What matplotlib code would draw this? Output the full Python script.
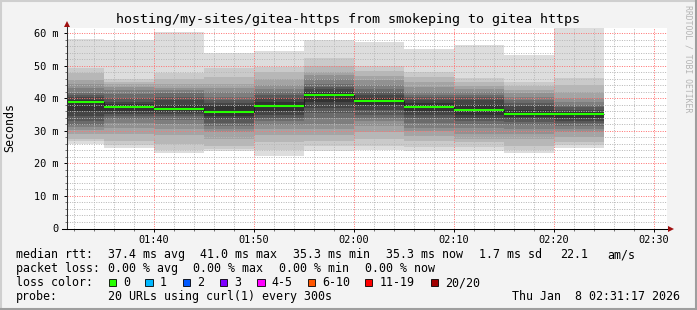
import numpy as np
import matplotlib
matplotlib.use("Agg")
import matplotlib.pyplot as plt
from matplotlib.patches import Rectangle
from matplotlib.lines import Line2D
from matplotlib.ticker import FixedLocator, FuncFormatter

MONO = "DejaVu Sans Mono"
W, H = 697, 310

# time axis in minutes after 01:30, one smoke column every 5 min
col_edges = [0, 5, 10, 15, 20, 25, 30, 35, 40, 45, 50, 55]
t_start, t_end = 1 + 17 / 60, 61 + 17 / 60   # 01:31:17 .. 02:31:17

# 20 sorted rtt samples (ms) per 5-minute column
p_0130 = [26.1, 27.0, 27.6, 29.0, 30.2, 31.2, 31.8, 33.0, 34.5, 36.0,
          39.5, 40.3, 41.0, 41.6, 43.1, 44.5, 45.6, 47.7, 49.2, 58.2]
p_0135 = [24.6, 25.8, 27.0, 29.0, 31.0, 32.5, 33.5, 34.5, 35.3, 36.0,
          38.2, 39.0, 40.0, 41.2, 42.5, 43.5, 44.3, 45.0, 45.8, 57.9]
p_0140 = [23.1, 24.1, 26.0, 28.7, 30.5, 32.0, 33.3, 34.5, 35.3, 35.8,
          38.0, 39.5, 40.5, 41.5, 42.5, 43.2, 44.5, 46.0, 47.7, 60.3]
p_0145 = [23.9, 24.3, 25.5, 27.5, 29.5, 30.5, 31.5, 32.5, 33.5, 34.5,
          37.5, 38.6, 39.5, 40.5, 42.0, 43.1, 44.5, 46.5, 49.2, 53.8]
p_0150 = [22.3, 24.0, 26.5, 28.7, 30.5, 31.8, 33.0, 34.0, 35.0, 36.0,
          39.0, 40.0, 41.0, 42.0, 43.0, 44.0, 46.0, 48.0, 49.7, 54.6]
p_0155 = [23.8, 25.5, 27.0, 28.7, 30.5, 32.0, 33.8, 35.5, 37.0, 39.0,
          42.0, 42.8, 43.6, 44.5, 46.0, 47.2, 48.2, 50.0, 52.3, 57.9]
p_0200 = [24.0, 25.5, 27.6, 29.5, 31.5, 33.0, 33.8, 35.0, 36.5, 37.8,
          40.0, 41.0, 42.0, 43.0, 44.0, 45.5, 47.0, 48.5, 50.0, 57.2]
p_0205 = [23.8, 25.0, 27.0, 28.5, 30.0, 31.0, 32.5, 34.0, 35.0, 36.0,
          38.5, 39.5, 40.3, 41.0, 42.0, 43.5, 45.0, 46.5, 48.2, 55.2]
p_0210 = [23.8, 25.0, 26.5, 27.6, 29.0, 30.8, 32.0, 33.0, 33.8, 34.8,
          38.0, 39.5, 40.5, 41.1, 42.0, 43.0, 43.7, 45.0, 46.2, 56.4]
p_0215 = [23.1, 24.0, 25.5, 27.6, 29.0, 30.5, 31.8, 32.8, 33.5, 34.3,
          36.5, 37.5, 38.5, 39.5, 40.5, 41.5, 42.5, 43.8, 45.1, 53.3]
p_0220 = [24.8, 25.6, 26.5, 28.0, 29.5, 30.5, 31.5, 32.3, 33.0, 34.0,
          35.8, 36.5, 37.3, 38.0, 39.0, 40.0, 42.0, 44.0, 46.2, 61.6]

median_ms = [39.0, 37.2, 36.7, 35.9, 37.7, 41.0, 39.2, 37.4, 36.4, 35.3, 35.3]

y_ticks = [0, 10, 20, 30, 40, 50, 60]
x_ticks = [10, 20, 30, 40, 50, 60]
x_labels = ["01:40", "01:50", "02:00", "02:10", "02:20", "02:30"]

loss_labels = ["0", "1", "2", "3", "4-5", "6-10", "11-19", "20/20"]
loss_colors = ["#26ff00", "#00b8ff", "#0059ff", "#7e00ff",
               "#ff00ff", "#ff5500", "#ff0000", "#a10000"]
loss_box_x = [108.7, 145.3, 182.7, 220.0, 257.3, 307.7, 365.0, 430.7]

legend_rows = [
    (254.5, [("median rtt:", 16), ("37.4 ms avg", 107.6), ("41.0 ms max", 200.0),
             ("35.3 ms min", 293.3), ("35.3 ms now", 385.6), ("1.7 ms sd", 479.3),
             ("22.1", 560.0), ("am/s", 607.0)]),
    (268.5, [("packet loss:", 16), ("0.00 % avg", 107.6), ("0.00 % max", 193.3),
             ("0.00 % min", 279.3), ("0.00 % now", 365.0)]),
    (282.5, [("loss color:", 16)]),
    (296.5, [("probe:", 16), ("20 URLs using curl(1) every 300s", 107.6)]),
]


def fx(px):
    return px / W


def fy(py):
    return 1 - py / H


fig = plt.figure(figsize=(W / 100, H / 100), dpi=100, facecolor="#f3f3f3")

# 3d frame round the image
fig.add_artist(Line2D([fx(0.5), fx(0.5)], [0, 1], color="#cfcfcf", lw=1.5))
fig.add_artist(Line2D([0, 1], [fy(0.5), fy(0.5)], color="#cfcfcf", lw=1.5))
fig.add_artist(Line2D([fx(696), fx(696)], [0, 1], color="#9e9e9e", lw=1.5))
fig.add_artist(Line2D([0, 1], [fy(309), fy(309)], color="#9e9e9e", lw=1.5))

ax = fig.add_axes([fx(66.5), fy(228.5), 600 / W, 200.5 / H])
ax.set_facecolor("white")
ax.set_xlim(t_start, t_end)
ax.set_ylim(0, 61.6)

# smoke: outer pair lightest, inner pair darkest
pings = np.array([p_0130, p_0135, p_0140, p_0145, p_0150, p_0155,
                  p_0200, p_0205, p_0210, p_0215, p_0220]).T
n = pings.shape[0]
half = n // 2
for ibot in range(1, half + 1):
    itop = n + 1 - ibot
    g = int(190 / half * (half - ibot)) + 50
    col = "#%02x%02x%02x" % (g, g, g)
    ax.stairs(pings[itop - 1], col_edges, baseline=pings[ibot - 1],
              fill=True, color=col, lw=0, zorder=1)

# median line
ax.stairs(median_ms, col_edges, baseline=None, color="#202020", lw=0.75, zorder=3)
ax.hlines(median_ms, col_edges[:-1], col_edges[1:], color="#26ff00", lw=1.5, zorder=4)

# grid
ax.set_axisbelow(False)
ax.xaxis.set_major_locator(FixedLocator(x_ticks))
ax.xaxis.set_minor_locator(FixedLocator([m for m in range(2, 62, 2) if m % 10]))
ax.yaxis.set_major_locator(FixedLocator(y_ticks))
ax.yaxis.set_minor_locator(FixedLocator([v for v in range(2, 62, 2) if v % 10]))
ax.grid(which="minor", color=(0.72, 0.72, 0.72, 0.65), lw=0.72, linestyle=(0, (1, 1.4)))
ax.grid(which="major", color=(1.0, 0.45, 0.45, 0.45), lw=0.72, linestyle=(0, (1, 1.4)))

ax.set_xticklabels(x_labels)
ax.yaxis.set_major_formatter(FuncFormatter(lambda v, p: "0" if v == 0 else "%d m" % v))

for s in ["top", "right", "left", "bottom"]:
    ax.spines[s].set_visible(False)
ax.tick_params(which="major", length=2.2, width=0.7, color="black", pad=2.5,
               labelsize=7.4, labelfontfamily=MONO)
ax.tick_params(which="minor", length=1.2, width=0.6, color="#606060")
ax.tick_params(axis="y", pad=3.5)

# axes with arrows
ax.plot([0, 0], [0, 1.02], transform=ax.transAxes, color="#303030", lw=0.75,
        clip_on=False, zorder=5)
ax.plot([-0.007, 1.005], [0, 0], transform=ax.transAxes, color="black", lw=0.75,
        clip_on=False, zorder=5)
ax.plot([0], [1.022], transform=ax.transAxes, marker="^", ms=4, color="#a01010",
        clip_on=False, zorder=6, mew=0)
ax.plot([1.0075], [0], transform=ax.transAxes, marker=">", ms=4, color="#a01010",
        clip_on=False, zorder=6, mew=0)

# texts
fig.text(0.5, fy(19), "hosting/my-sites/gitea-https from smokeping to gitea https",
         ha="center", va="center", fontsize=9.6, family=MONO)
fig.text(fx(10), fy(128), "Seconds", rotation=90, ha="center", va="center",
         fontsize=8.4, family=MONO)
fig.text(fx(688), fy(5), "RRDTOOL / TOBI OETIKER", rotation=-90, ha="center",
         va="top", fontsize=5.9, family=MONO, color="#b4b4b4")

for y, items in legend_rows:
    for s, x in items:
        fig.text(fx(x), fy(y), s, ha="left", va="center", fontsize=8.4, family=MONO)

for lab, c, x in zip(loss_labels, loss_colors, loss_box_x):
    fig.add_artist(Rectangle((fx(x), fy(286.2)), 7.3 / W, 7.3 / H,
                             transform=fig.transFigure, facecolor=c,
                             edgecolor="black", lw=0.6))
    fig.text(fx(x + 14.6), fy(282.5), lab, ha="left", va="center",
             fontsize=8.4, family=MONO)

fig.text(fx(680.5), fy(296.5), "Thu Jan  8 02:31:17 2026", ha="right",
         va="center", fontsize=8.4, family=MONO)

fig.savefig("out.png", dpi=100, facecolor=fig.get_facecolor())
